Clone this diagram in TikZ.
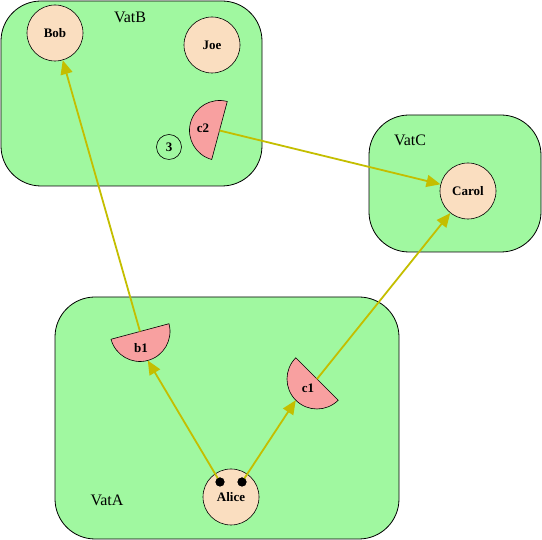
\documentclass[tikz,border=0pt]{standalone}
\usepackage{fontspec}
\setmainfont{Liberation Serif}
\usetikzlibrary{positioning, calc, arrows.meta}
\definecolor{vatgreen}{RGB}{160,248,160}
\definecolor{objfill}{RGB}{250,222,192}
\definecolor{reffill}{RGB}{248,160,160}
\definecolor{refline}{RGB}{196,190,0}
\tikzstyle{Arrow} = [
%Create custom arrow style:
line width=1.8pt, draw=refline,
-{Triangle[length=14pt, width=12pt, fill=refline]}
]

\begin{document}
\begin{tikzpicture}[x=1pt, y=1pt,
			vat/.style = {rectangle, rounded corners=40pt, draw, line width=0.8pt, fill=vatgreen},
			object/.style = {circle, draw, line width=0.6pt, fill=objfill, minimum size=56pt, inner sep=0pt, font=\bfseries\fontsize{13}{15}\selectfont},
			count/.style = {circle, draw, line width=0.6pt, minimum size=25pt, inner sep=0pt, font=\bfseries\fontsize{13}{15}\selectfont},
			halfdisc/.style = {draw=black, line width=0.6pt, fill=reffill},
			reflabel/.style = {font=\bfseries\fontsize{13}{15}\selectfont},
			vatlabel/.style = {font=\fontsize{16}{18}\selectfont},
			eye/.style = {circle, fill=black, minimum size=9pt, inner sep=0pt},
		]
		\useasboundingbox (0,0) rectangle (542,540);

		% vats
		\node[vat, minimum width=261pt, minimum height=185pt](VatB) at (131.5,446.5){};
		\node[vat, minimum width=172pt, minimum height=137pt](VatC) at (455,356.5){};
		\node[vat, minimum width=344pt, minimum height=242pt](VatA) at (227,122){};
		\node[vatlabel](VatB label) at (130,523){VatB};
		\node[vatlabel](VatC label) at (410,400){VatC};
		\node[vatlabel](VatA label) at (107,40){VatA};

		% objects
		\node[object](Bob) at (55,507){Bob};
		\node[object](Joe) at (212,495){Joe};
		\node[object](Carol) at (468,349){Carol};
		\node[object](Alice) at (231,43){Alice};
		\node[count](three) at (169,393){3};
		\node[eye](eyeL) at (220,58){};
		\node[eye](eyeR) at (242,58){};

		% references
		\coordinate(b1) at (140,208.5);
		\coordinate(c1) at (317,161);
		\coordinate(c2) at (219.5,409.5);
		\filldraw[halfdisc](b1) ++(195:30) arc[start angle=195, end angle=375, radius=30] -- cycle;
		\filldraw[halfdisc](c1) ++(135:30) arc[start angle=135, end angle=315, radius=30] -- cycle;
		\filldraw[halfdisc](c2) ++(75:30) arc[start angle=75, end angle=255, radius=30] -- cycle;
		\path(b1) ++(285:30) coordinate(b1 tip);
		\path(c1) ++(225:30) coordinate(c1 tip);
		\node[reflabel](b1 label) at (141,192){b1};
		\node[reflabel](c1 label) at (308,152){c1};
		\node[reflabel](c2 label) at (203,412){c2};

		\draw[Arrow](b1)--(Bob);
		\draw[Arrow](c2)--(Carol);
		\draw[Arrow](c1)--(Carol);
		\draw[Arrow](eyeL.center)--(b1 tip);
		\draw[Arrow](eyeR.center)--(c1 tip);
		\node[eye] at (eyeL){};
		\node[eye] at (eyeR){};

	\end{tikzpicture}
\end{document}
